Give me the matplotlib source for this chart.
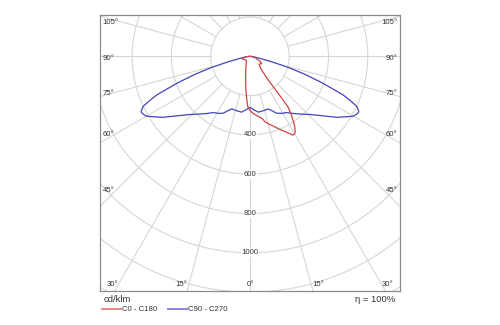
import matplotlib.pyplot as plt
import numpy as np
from matplotlib.patches import Circle
from matplotlib.lines import Line2D

plt.rcParams['font.family'] = ['Liberation Sans', 'DejaVu Sans']

# C90 - C270 (symmetric), angle from nadir in degrees, cd/klm
blue_ang = [0, 4, 8.5, 14, 19, 22, 25, 29, 33, 37, 41, 46, 50, 55, 58, 60, 62, 63,
            64, 65, 66, 67.5, 69, 70, 72, 74, 76, 78, 82, 86, 90]
blue_val = [260, 272, 287, 285, 283, 298, 319, 332, 341, 364, 389, 426, 469, 541, 580,
            609, 620, 622, 612, 598, 565, 514, 430, 385, 290, 200, 114, 60, 25, 10, 3]

# C0 half (drawn to the right)
red0_ang = [0, 3, 7, 11, 13, 16, 19.5, 22, 25, 27, 28.7, 30, 31, 32.5, 34, 35.5, 37,
            37.4, 37.7, 40.5, 45, 50, 58, 65, 75, 85, 90]
red0_val = [275, 290, 305, 322, 342, 360, 381, 400, 423, 440, 457, 455, 447, 425, 392,
            360, 322, 237, 152, 92, 70, 62, 70, 55, 28, 10, 3]

# C180 half (drawn to the left)
red180_ang = [0, 2, 3, 5, 7, 10, 14, 20, 30, 40, 55, 70, 76, 85, 90]
red180_val = [275, 262, 245, 205, 170, 125, 90, 60, 38, 28, 30, 40, 43, 20, 3]

rings = [200, 400, 600, 800, 1000, 1200, 1400]
ring_labels = [400, 600, 800, 1000]
side_angles = [105, 90, 75, 60, 45]

RED = '#cc4444'
BLUE = '#4444bb'
GRID = '#d6d6d6'
TXT = '#333333'
FS = 5.6


def to_xy(ang, val, side):
    a = np.radians(np.asarray(ang, dtype=float))
    v = np.asarray(val, dtype=float)
    return side * v * np.sin(a), -v * np.cos(a)


fig = plt.figure(figsize=(5, 3.25), dpi=100)
ax = fig.add_axes([0.199, 0.1055, 0.601, 0.8474])
ax.set_xlim(-766, 764)
ax.set_ylim(-1193, 209)
ax.set_xticks([])
ax.set_yticks([])
for s in ax.spines.values():
    s.set_color('#8c8c8c')
    s.set_linewidth(0.9)

# grid
for r in rings:
    ax.add_patch(Circle((0, 0), r, fill=False, ec=GRID, lw=0.8, zorder=1))
for a in np.arange(0, 360, 15):
    t = np.radians(a)
    ax.plot([200 * np.sin(t), 2000 * np.sin(t)], [-200 * np.cos(t), -2000 * np.cos(t)],
            color=GRID, lw=0.8, zorder=1)

for r in ring_labels:
    ax.text(0, -r, str(r), ha='center', va='center', fontsize=FS, color=TXT, zorder=2,
            bbox=dict(fc='white', ec='none', pad=0.6))

# angle labels along the sides
L = 672
for a in side_angles:
    y = -L / np.tan(np.radians(a)) - 10
    ax.text(-750, y, f'{a}°', ha='left', va='center', fontsize=FS, color=TXT)
    ax.text(750, y, f'{a}°', ha='right', va='center', fontsize=FS, color=TXT)

yb = -1159
xb = 1193 * np.tan(np.radians(15))
ax.text(0, yb, '0°', ha='center', va='center', fontsize=FS, color=TXT)
ax.text(-xb, yb, '15°', ha='right', va='center', fontsize=FS, color=TXT)
ax.text(xb, yb, '15°', ha='left', va='center', fontsize=FS, color=TXT)
ax.text(-731, yb, '30°', ha='left', va='center', fontsize=FS, color=TXT)
ax.text(729, yb, '30°', ha='right', va='center', fontsize=FS, color=TXT)

# curves
bxr, byr = to_xy(blue_ang, blue_val, 1)
bxl, byl = to_xy(blue_ang, blue_val, -1)
ax.plot(np.concatenate([bxl[::-1], bxr]), np.concatenate([byl[::-1], byr]),
        color=BLUE, lw=0.9, zorder=3)

rxl, ryl = to_xy(red180_ang, red180_val, -1)
rxr, ryr = to_xy(red0_ang, red0_val, 1)
ax.plot(np.concatenate([rxl[::-1], rxr]), np.concatenate([ryl[::-1], ryr]),
        color=RED, lw=0.9, zorder=3)

# legend / footer
fig.text(0.207, 0.077, 'cd/klm', ha='left', va='center', fontsize=6.8, color=TXT)
fig.text(0.79, 0.077, 'η = 100%', ha='right', va='center', fontsize=6.8, color=TXT)
fig.add_artist(Line2D([0.204, 0.241], [0.049, 0.049], color='#e08888', lw=1.4))
fig.text(0.245, 0.049, 'C0 - C180', ha='left', va='center', fontsize=5.6, color=TXT)
fig.add_artist(Line2D([0.336, 0.374], [0.049, 0.049], color='#8888d8', lw=1.4))
fig.text(0.377, 0.049, 'C90 - C270', ha='left', va='center', fontsize=5.6, color=TXT)

fig.savefig('out.png', dpi=100, facecolor='white')
